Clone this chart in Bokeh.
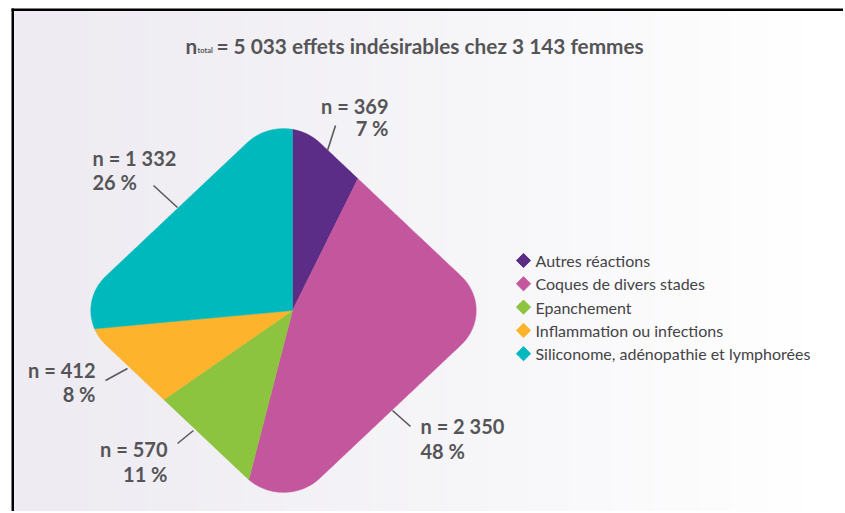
import numpy as np
from bokeh.plotting import figure
from bokeh.models import Range1d
from bokeh.core.properties import value
from bokeh.embed import file_html
from bokeh.resources import INLINE

# ---------------- data ----------------
categories = ["Autres réactions", "Coques de divers stades", "Epanchement",
              "Inflammation ou infections", "Siliconome, adénopathie et lymphorées"]
counts = [369, 2350, 570, 412, 1332]
count_labels = ["n = 369", "n = 2 350", "n = 570", "n = 412", "n = 1 332"]
percent_labels = ["7 %", "48 %", "11 %", "8 %", "26 %"]
colors = ["#5c2d87", "#c4569d", "#8cc43f", "#fdb32b", "#00b9bd"]
title_sub = "total"
title_main = "= 5 033 effets indésirables chez 3 143 femmes"

# ---------------- layout (page pixel coordinates) ----------------
W, H = 843, 511
X0, Y0 = 0, 0
FONT = "Lato"
TXT = "#555558"

p = figure(width=W, height=H, output_backend="svg", toolbar_location=None,
           x_range=Range1d(X0, X0 + W), y_range=Range1d(Y0 + H, Y0),
           min_border=0, background_fill_color="white", border_fill_color="white")
p.axis.visible = False
p.grid.visible = False
p.outline_line_color = None

# background gradient
gw, gh = 200, 20
xs_g = np.linspace(0, 1, gw)
t = np.clip(xs_g / 0.95, 0, 1) ** 1.25
c0 = np.array([0xee, 0xec, 0xf2], float)
c1 = np.array([0xff, 0xff, 0xff], float)
row = (c0[None, :] * (1 - t[:, None]) + c1[None, :] * t[:, None]).astype(np.uint8)
img = np.zeros((gh, gw), dtype=np.uint32)
view = img.view(dtype=np.uint8).reshape((gh, gw, 4))
view[:, :, 0] = row[None, :, 0]
view[:, :, 1] = row[None, :, 1]
view[:, :, 2] = row[None, :, 2]
view[:, :, 3] = 255
p.image_rgba(image=[img], x=13, y=10, dw=X0 + W - 13, dh=Y0 + H - 10)

# frame lines (top and left)
p.quad(left=[11, 11], right=[X0 + W, 13.5], top=[8, 8], bottom=[10.5, Y0 + H],
       fill_color="black", line_color=None)

# ---------------- rounded-diamond pie ----------------
pcx, pcy = 292, 310          # pie centre
scx, scy = 283, 310          # shape centre
A, B, rho = 214, 202, 0.34   # half-diagonals of the virtual diamond, corner rounding

corner_signs = [(1, 1), (-1, 1), (-1, -1), (1, -1)]
pts = []
for k, (ss, st) in enumerate(corner_signs):
    phis = np.radians(np.linspace(90 * k, 90 * k + 90, 60))
    pts.append(np.column_stack([ss * (1 - rho) + rho * np.cos(phis),
                                st * (1 - rho) + rho * np.sin(phis)]))
poly = np.vstack(pts)
poly = np.vstack([poly, poly[:1]])
dense = np.vstack([np.linspace(poly[i], poly[i + 1], 30, endpoint=False)
                   for i in range(len(poly) - 1)])
u = (dense[:, 0] + dense[:, 1]) / 2
v = (dense[:, 0] - dense[:, 1]) / 2
bx = scx + A * u
by = scy + B * v
th = np.mod(np.arctan2(bx - pcx, -(by - pcy)), 2 * np.pi)
rr = np.hypot(bx - pcx, by - pcy)
order = np.argsort(th)
th_s, rr_s = th[order], rr[order]

total = sum(counts)
fr = np.cumsum([0] + counts) / total * 2 * np.pi
sxs, sys = [], []
for i in range(len(counts)):
    thetas = np.linspace(fr[i], fr[i + 1], 400)
    r = np.interp(thetas, th_s, rr_s, period=2 * np.pi)
    sxs.append([pcx] + list(pcx + r * np.sin(thetas)))
    sys.append([pcy] + list(pcy - r * np.cos(thetas)))
p.patches(sxs, sys, fill_color=colors, line_color=colors, line_width=0.5)

# ---------------- slice labels ----------------
lab_x = [388, 420, 167, 95, 92]
lab_y1 = [105, 425, 448, 369, 157]
lab_y2 = [127, 450, 473, 393, 181]
lab_align = ["right", "left", "right", "right", "left"]
p.text(x=lab_x, y=lab_y1, text=count_labels, text_align=lab_align, text_baseline="middle",
       text_font=value(FONT), text_font_size="20px", text_font_style="bold", text_color=TXT)
p.text(x=lab_x, y=lab_y2, text=percent_labels, text_align=lab_align, text_baseline="middle",
       text_font=value(FONT), text_font_size="20px", text_font_style="bold", text_color=TXT)

lead_x0 = [335, 392, 177, 105, 153]
lead_y0 = [125, 410, 443, 380, 185]
lead_x1 = [327, 410, 193, 127, 177]
lead_y1 = [150, 426, 430, 368, 207]
p.segment(x0=lead_x0, y0=lead_y0, x1=lead_x1, y1=lead_y1, line_color="#5a5a5a", line_width=1.6)

# ---------------- legend ----------------
leg_y = [260 + 23.3 * i for i in range(len(categories))]
p.scatter(x=[523] * len(categories), y=leg_y, marker="square", angle=np.pi / 4, size=10,
          fill_color=colors, line_color=colors)
p.text(x=[535] * len(categories), y=leg_y, text=categories, text_baseline="middle",
       text_font=value(FONT), text_font_size="16px", text_color="#444446")

# ---------------- title ----------------
p.text(x=[185], y=[45], text=["n"], text_baseline="alphabetic",
       text_font=value(FONT), text_font_size="20.8px", text_font_style="bold", text_color=TXT)
p.text(x=[197], y=[50], text=[title_sub], text_baseline="alphabetic",
       text_font=value(FONT), text_font_size="7.5px", text_font_style="bold", text_color=TXT)
p.text(x=[216], y=[45], text=[title_main], text_baseline="alphabetic",
       text_font=value(FONT), text_font_size="20.8px", text_font_style="bold", text_color=TXT)

open("out.html", "w").write(file_html(p, INLINE))
